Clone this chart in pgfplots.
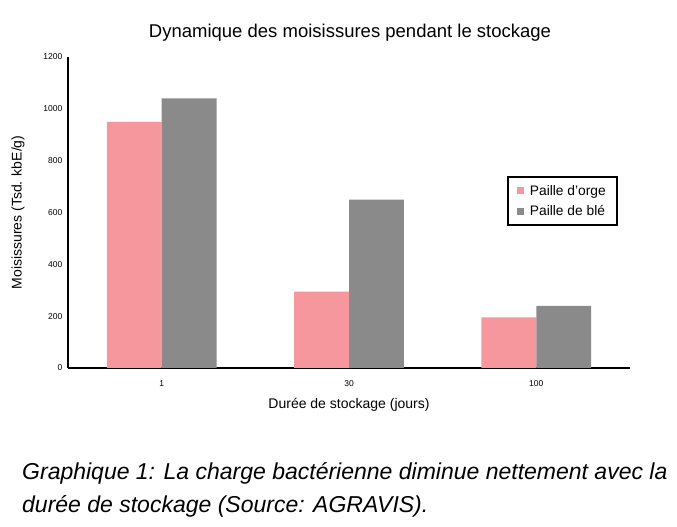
\documentclass[border=0pt]{standalone}
\usepackage{fontspec}
\setmainfont{Liberation Sans}
\usepackage{pgfplots}
\pgfplotsset{compat=1.18}
\definecolor{orge}{HTML}{F5979D}
\definecolor{ble}{HTML}{8A8A8A}
\begin{document}
\begin{tikzpicture}[x=1pt,y=1pt]
\path[use as bounding box] (0,0) rectangle (677,527);
\begin{axis}[
  at={(68pt,159pt)}, anchor=south west,
  scale only axis, width=562pt, height=311pt,
  xmin=-0.5, xmax=2.5, ymin=0, ymax=1200,
  ybar=0pt, bar width=0.293,
  xtick={0,1,2}, xticklabels={1,30,100},
  ytick={0,200,...,1200},
  axis lines=left, axis line style={-, line width=1.3pt},
  tick style={draw=none},
  /pgf/number format/assume math mode=true,
  /pgf/number format/1000 sep={},
  ticklabel style={font=\fontsize{8.5}{9}\selectfont},
  xticklabel style={yshift=-7pt},
  xlabel={Durée de stockage (jours)},
  ylabel={Moisissures (Tsd. kbE/g)},
  label style={font=\fontsize{14}{16}\selectfont},
  xlabel style={yshift=-5pt},
  ylabel style={yshift=12pt},
  legend style={at={(0.781,0.617)}, anchor=north west, draw=black, line width=2pt,
    font=\fontsize{13.8}{16}\selectfont, inner xsep=9pt, inner ysep=6pt, row sep=5pt,
    cells={anchor=west}},
  legend image code/.code={\fill[#1, draw=none] (0pt,-3.5pt) rectangle (7pt,3.5pt); \path (11pt,0pt);},
]
\addplot[fill=orge, draw=none] coordinates {(0,950) (1,295) (2,195)};
\addplot[fill=ble, draw=none] coordinates {(0,1040) (1,650) (2,240)};
\legend{Paille d’orge, Paille de blé}
\end{axis}
\node[font=\fontsize{18.5}{20}\selectfont] at (350,494) {Dynamique des moisissures pendant le stockage};
\node[font=\fontsize{23}{33}\selectfont\itshape, anchor=north west, align=left, inner sep=0pt] at (22,65)
  {Graphique 1: La charge bactérienne diminue nettement avec la\\durée de stockage (Source: AGRAVIS).};
\end{tikzpicture}
\end{document}
